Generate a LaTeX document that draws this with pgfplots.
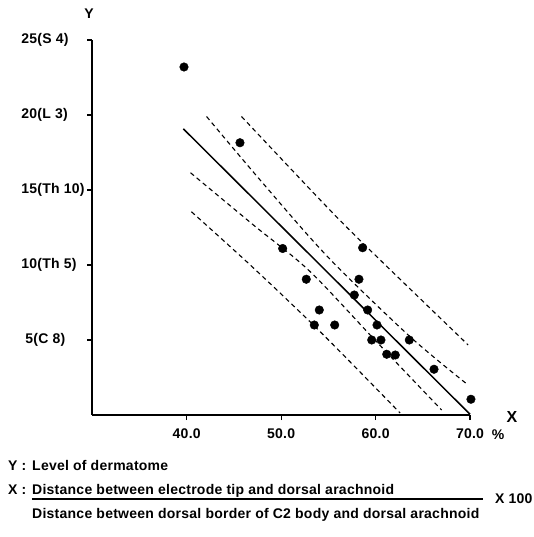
\documentclass[border=0pt]{standalone}
\usepackage{fontspec}
\setmainfont{Liberation Sans}[LetterSpace=1.8]
\usepackage{pgfplots}
\pgfplotsset{compat=1.18}
\begin{document}
\begin{tikzpicture}[x=1pt,y=1pt,font=\fontsize{14}{16}\selectfont\bfseries]
\path (-92.3,-122) rectangle (440.7,415);
\begin{axis}[
  at={(0,0)}, anchor=south west,
  scale only axis, width=377.7pt, height=375pt,
  xmin=30, xmax=70, ymin=0, ymax=25,
  axis lines=left, axis line style={line width=1.7pt, -},
  xtick={40,50,60,70}, xticklabels={40.0,50.0,60.0,70.0},
  ytick={5,10,15,20,25},
  yticklabels={\hspace*{4pt}5(C 8),10(Th 5),15(Th 10),20(L 3),25(S 4)},
  tick style={line width=1.2pt, black},
  major tick length=5pt,
  tick align=outside,
  xticklabel style={yshift=-5.5pt},
  yticklabel style={anchor=west, xshift=-69.4pt},
  clip=false,
]
\addplot[only marks, mark=*, mark size=4.3pt, black] coordinates {
(39.71,23.2) (45.64,18.15) (50.16,11.1) (52.66,9.05) (54.04,7.0) (53.51,6.0)
(55.67,6.0) (58.63,11.15) (58.24,9.05) (57.75,8.0) (59.16,7.0) (60.15,6.0)
(59.59,5.0) (60.57,5.0) (61.18,4.05) (62.09,4.0) (63.57,5.0) (66.19,3.05) (70.1,1.05)
};
\addplot[black, line width=1.5pt] coordinates {(39.64,19.08) (70.0,0.05)};
% inner band (confidence)
\addplot[black, line width=1.1pt, dash pattern=on 4.5pt off 3.5pt, smooth] coordinates {
(42.1,19.9) (48.0,15.5) (55.0,10.5) (63.6,5.25) (69.8,2.0)};
\addplot[black, line width=1.1pt, dash pattern=on 4.5pt off 3.5pt, smooth] coordinates {
(40.4,16.15) (47.0,12.7) (53.0,9.6) (60.0,4.95) (67.0,0.33)};
% outer band (prediction)
\addplot[black, line width=1.1pt, dash pattern=on 4.5pt off 3.5pt, smooth] coordinates {
(45.8,19.9) (54.8,13.9) (59.4,11.0) (69.8,4.67)};
\addplot[black, line width=1.1pt, dash pattern=on 4.5pt off 3.5pt, smooth] coordinates {
(40.5,13.55) (46.9,9.9) (54.14,5.55) (62.6,0.13)};
\end{axis}
\node[inner sep=0] at (-3.3,401) {Y};
\node[inner sep=0, font=\fontsize{16}{18}\selectfont\bfseries] at (419.7,-2) {X};
\node[inner sep=0] at (405.7,-20) {\%};
\node[inner sep=0, anchor=base west] at (-84.3,-56) {Y :};
\node[inner sep=0, anchor=base west] at (-60.3,-56) {Level of dermatome};
\node[inner sep=0, anchor=base west] at (-84.3,-79) {X :};
\node[inner sep=0, anchor=base west] at (-60.3,-79) {Distance between electrode tip and dorsal arachnoid};
\draw[line width=1.1pt] (-60.3,-84) -- (390.7,-84);
\node[inner sep=0, anchor=west] at (402.7,-84) {X 100};
\node[inner sep=0, anchor=base west] at (-60.3,-103) {Distance between dorsal border of C2 body and dorsal arachnoid};
\end{tikzpicture}
\end{document}
